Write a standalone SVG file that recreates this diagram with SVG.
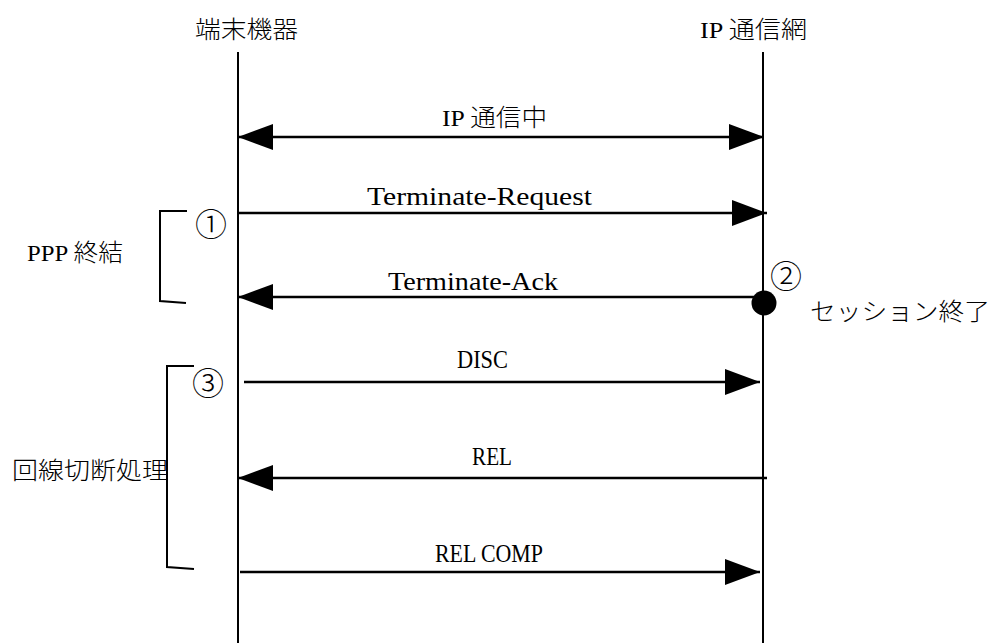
<svg xmlns="http://www.w3.org/2000/svg" width="994" height="643" viewBox="0 0 994 643">
<style>
.ll{stroke:#000;stroke-width:2;fill:none}
.msg{stroke:#000;stroke-width:2.5;fill:none}
.br{stroke:#000;stroke-width:2;fill:none}
.lat{font-family:"Liberation Serif","Noto Sans CJK JP",serif;font-size:26px;fill:#000}
.cjk{font-family:"Noto Sans CJK JP",sans-serif;font-size:24px;font-weight:300;fill:#000}
.mix{font-family:"Liberation Serif","Noto Sans CJK JP",serif;font-size:24px;font-weight:300;fill:#000}
.num{font-family:"Noto Sans CJK JP",sans-serif;font-size:32px;font-weight:300;fill:#000;text-anchor:middle}
</style>
<defs>
<marker id="ah" markerUnits="userSpaceOnUse" markerWidth="36" markerHeight="26" refX="35" refY="13" orient="auto-start-reverse" viewBox="0 0 36 26">
<path d="M0,0 L35,13 L0,26 z" fill="#000"/>
</marker>
</defs>
<rect width="994" height="643" fill="#fff"/>
<g id="terminal">
<text class="cjk" x="195" y="38" textLength="103" lengthAdjust="spacingAndGlyphs">端末機器</text>
<line class="ll" x1="238" y1="52" x2="238" y2="643"/>
</g>
<g id="ipnet">
<text class="mix" x="700" y="38" textLength="107" lengthAdjust="spacingAndGlyphs">IP 通信網</text>
<line class="ll" x1="763" y1="52" x2="763" y2="643"/>
</g>
<g id="ppp-bracket">
<path class="br" d="M187,211 H160 V301 L186,303"/>
<text class="mix" x="27" y="261" textLength="96" lengthAdjust="spacingAndGlyphs">PPP 終結</text>
</g>
<g id="line-bracket">
<path class="br" d="M194,366 H167 V567 L194,569"/>
<text class="cjk" x="12" y="479" textLength="156" lengthAdjust="spacingAndGlyphs">回線切断処理</text>
</g>
<g id="step1"><text class="num" x="211" y="236">①</text></g>
<g id="step2"><text class="num" x="786" y="288">②</text></g>
<g id="step3"><text class="num" x="208" y="395">③</text></g>
<g id="session-end">
<circle cx="764" cy="303" r="12.5" fill="#000"/>
<text class="cjk" x="810" y="320" textLength="180" lengthAdjust="spacingAndGlyphs">セッション終了</text>
</g>
<g id="connectors">
<line class="msg" x1="238" y1="137" x2="764" y2="137" marker-start="url(#ah)" marker-end="url(#ah)"/>
<text class="mix" x="442" y="126" textLength="105" lengthAdjust="spacingAndGlyphs">IP 通信中</text>
<line class="msg" x1="238" y1="213" x2="767" y2="213" marker-end="url(#ah)"/>
<text class="lat" x="367" y="205" textLength="225" lengthAdjust="spacingAndGlyphs">Terminate-Request</text>
<line class="msg" x1="764" y1="297" x2="238" y2="297" marker-end="url(#ah)"/>
<text class="lat" x="388" y="290" textLength="170" lengthAdjust="spacingAndGlyphs">Terminate-Ack</text>
<line class="msg" x1="244" y1="382" x2="760" y2="382" marker-end="url(#ah)"/>
<text class="lat" x="457" y="368" textLength="51" lengthAdjust="spacingAndGlyphs">DISC</text>
<line class="msg" x1="767" y1="478" x2="238" y2="478" marker-end="url(#ah)"/>
<text class="lat" x="472" y="465" textLength="40" lengthAdjust="spacingAndGlyphs">REL</text>
<line class="msg" x1="240" y1="572" x2="760" y2="572" marker-end="url(#ah)"/>
<text class="lat" x="435" y="562" textLength="108" lengthAdjust="spacingAndGlyphs">REL COMP</text>
</g>
</svg>
